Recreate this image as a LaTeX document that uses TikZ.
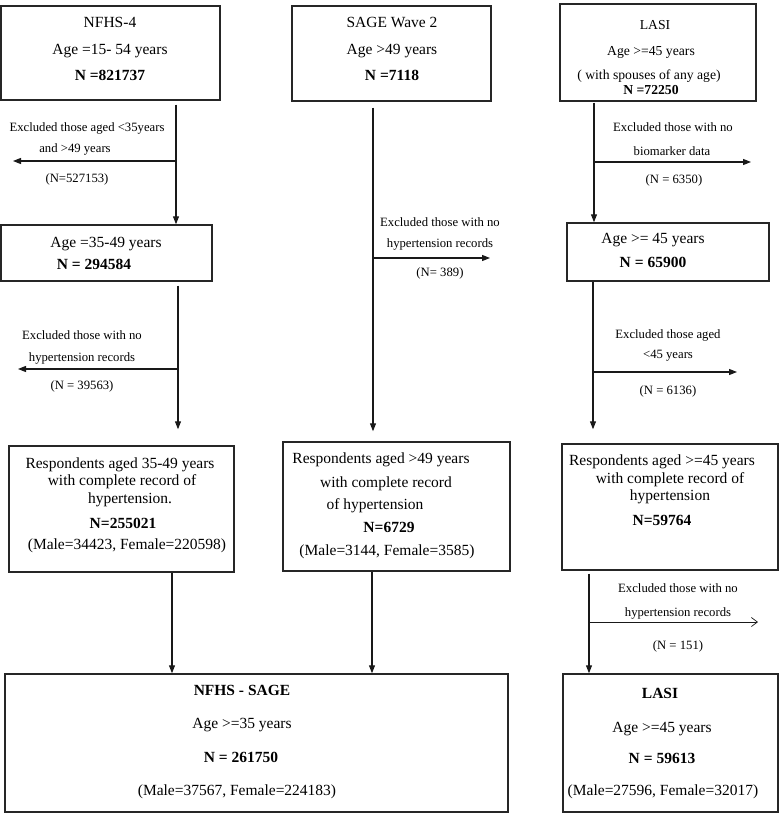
\documentclass[tikz,border=0pt]{standalone}
\usepackage{fontspec}
\setmainfont{Liberation Serif}
\usetikzlibrary{arrows.meta,calc}
\tikzset{
  box/.style={draw=black!85, line width=1.4pt, inner sep=0pt, rectangle},
  bt/.style={anchor=base, yshift=-5pt, inner sep=0pt, font=\fontsize{15.5}{18}\selectfont},
  lt/.style={anchor=base, yshift=-4.6pt, inner sep=0pt, font=\fontsize{13.7}{16}\selectfont},
  et/.style={anchor=base, yshift=-4pt, inner sep=0pt, font=\fontsize{12.7}{15}\selectfont},
  arr/.style={draw=black!90, line width=1.1pt, -{Triangle[length=8pt,width=6pt]}},
  thinarr/.style={draw=black!90, line width=0.7pt, -{Straight Barb[length=6pt,width=9pt]}}
}
\begin{document}
\begin{tikzpicture}[x=1pt,y=-1pt]
\useasboundingbox (0,0) rectangle (780,814);
% boxes
\node[box, minimum width=219pt, minimum height=94pt] (b1) at (110.5,53) {};
\node[box, minimum width=199pt, minimum height=95pt] (b2) at (391.5,53.5) {};
\node[box, minimum width=196pt, minimum height=97pt] (b3) at (658,52.5) {};
\node[box, minimum width=211pt, minimum height=56pt] (b4) at (106.5,253) {};
\node[box, minimum width=202pt, minimum height=58pt] (b5) at (668,252) {};
\node[box, minimum width=225pt, minimum height=126pt] (b6) at (121.5,509) {};
\node[box, minimum width=227pt, minimum height=129pt] (b7) at (396.5,506.5) {};
\node[box, minimum width=216pt, minimum height=126pt] (b8) at (670,507) {};
\node[box, minimum width=503pt, minimum height=138pt] (b9) at (256.5,743) {};
\node[box, minimum width=215pt, minimum height=138pt] (b10) at (670.5,743) {};
% box texts
\node[bt] (t11) at (110,22) {NFHS-4};
\node[bt] (t12) at (110,49) {Age =15- 54 years};
\node[bt] (t13) at (110,75) {\textbf{N =821737}};
\node[bt] (t21) at (392,22) {SAGE Wave 2};
\node[bt] (t22) at (392,49) {Age >49 years};
\node[bt] (t23) at (392,75) {\textbf{N =7118}};
\node[lt] (t31) at (655,25) {LASI};
\node[lt] (t32) at (651,51) {Age >=45 years};
\node[lt] (t33) at (649,75) {( with spouses of any age)};
\node[lt] (t34) at (651,90) {\textbf{N =72250}};
\node[bt] (t41) at (106,242) {Age =35-49 years};
\node[bt] (t42) at (94,264) {\textbf{N = 294584}};
\node[bt] (t51) at (653,238) {Age >= 45 years};
\node[bt] (t52) at (653,262) {\textbf{N = 65900}};
\node[bt] (t61) at (120,463) {Respondents aged 35-49 years};
\node[bt] (t62) at (122,480) {with complete record of};
\node[bt] (t63) at (130,498) {hypertension.};
\node[bt] (t64) at (123,523) {\textbf{N=255021}};
\node[bt] (t65) at (127,544) {(Male=34423, Female=220598)};
\node[bt] (t71) at (381,458) {Respondents aged >49 years};
\node[bt] (t72) at (386,482) {with complete record};
\node[bt] (t73) at (375,504) {of hypertension};
\node[bt] (t74) at (389,527) {\textbf{N=6729}};
\node[bt] (t75) at (387,550) {(Male=3144, Female=3585)};
\node[bt] (t81) at (662,460) {Respondents aged >=45 years};
\node[bt] (t82) at (670,478) {with complete record of};
\node[bt] (t83) at (670,495) {hypertension};
\node[bt] (t84) at (662,520) {\textbf{N=59764}};
\node[bt] (t91) at (242,690) {\textbf{NFHS - SAGE}};
\node[bt] (t92) at (242,723) {Age >=35 years};
\node[bt] (t93) at (241,757) {\textbf{N = 261750}};
\node[bt] (t94) at (237,790) {(Male=37567, Female=224183)};
\node[bt] (t101) at (660,693) {\textbf{LASI}};
\node[bt] (t102) at (662,727) {Age >=45 years};
\node[bt] (t103) at (662,758) {\textbf{N = 59613}};
\node[bt] (t104) at (663,790) {(Male=27596, Female=32017)};
% exclusion texts
\node[et] (e11) at (87,127) {Excluded those aged <35years};
\node[et] (e12) at (75,148) {and >49 years};
\node[et] (e13) at (77,178) {(N=527153)};
\node[et] (e21) at (82,335) {Excluded those with no};
\node[et] (e22) at (82,357) {hypertension records};
\node[et] (e23) at (82,385) {(N = 39563)};
\node[et] (e31) at (440,222) {Excluded those with no};
\node[et] (e32) at (440,243) {hypertension records};
\node[et] (e33) at (440,272) {(N= 389)};
\node[et] (e41) at (673,127) {Excluded those with no};
\node[et] (e42) at (672,151) {biomarker data};
\node[et] (e43) at (674,179) {(N = 6350)};
\node[et] (e51) at (668,334) {Excluded those aged};
\node[et] (e52) at (668,354) {<45 years};
\node[et] (e53) at (668,390) {(N = 6136)};
\node[et] (e61) at (678,588) {Excluded those with no};
\node[et] (e62) at (678,612) {hypertension records};
\node[et] (e63) at (678,645) {(N = 151)};
% column coordinates
\coordinate (c1) at (176,0);
\coordinate (c2) at (178,0);
\coordinate (c3) at (373,0);
\coordinate (c4) at (172,0);
\coordinate (c5) at (372,0);
\coordinate (c6) at (594,0);
\coordinate (c7) at (593,0);
\coordinate (c8) at (589,0);
% vertical arrows
\draw[arr] ($(b1.south -| c1)+(0,4)$) -- (b4.north -| c1);
\draw[arr] ($(b4.south -| c2)+(0,4)$) -- ($(b6.north -| c2)+(0,-16)$);
\draw[arr] ($(b2.south -| c3)+(0,6)$) -- ($(b7.north -| c3)+(0,-10)$);
\draw[arr] (b6.south -| c4) -- (b9.north -| c4);
\draw[arr] (b7.south -| c5) -- (b9.north -| c5);
\draw[arr] ($(b3.south -| c6)+(0,1)$) -- (b5.north -| c6);
\draw[arr] (b5.south -| c7) -- ($(b8.north -| c7)+(0,-14)$);
\draw[arr] ($(b8.south -| c8)+(0,3)$) -- (b10.north -| c8);
% exclusion arrows
\coordinate (h1s) at (176,161); \coordinate (h1e) at (13,161);
\coordinate (h2s) at (178,369); \coordinate (h2e) at (18,369);
\coordinate (h3s) at (373,258); \coordinate (h3e) at (490,258);
\coordinate (h4s) at (594,162); \coordinate (h4e) at (751,162);
\coordinate (h5s) at (593,372); \coordinate (h5e) at (737,372);
\coordinate (h6s) at (589,622); \coordinate (h6e) at (758,622);
\draw[arr] (h1s) -- (h1e);
\draw[arr] (h2s) -- (h2e);
\draw[arr] (h3s) -- (h3e);
\draw[arr] (h4s) -- (h4e);
\draw[arr] (h5s) -- (h5e);
\draw[thinarr] (h6s) -- (h6e);
\end{tikzpicture}
\end{document}
